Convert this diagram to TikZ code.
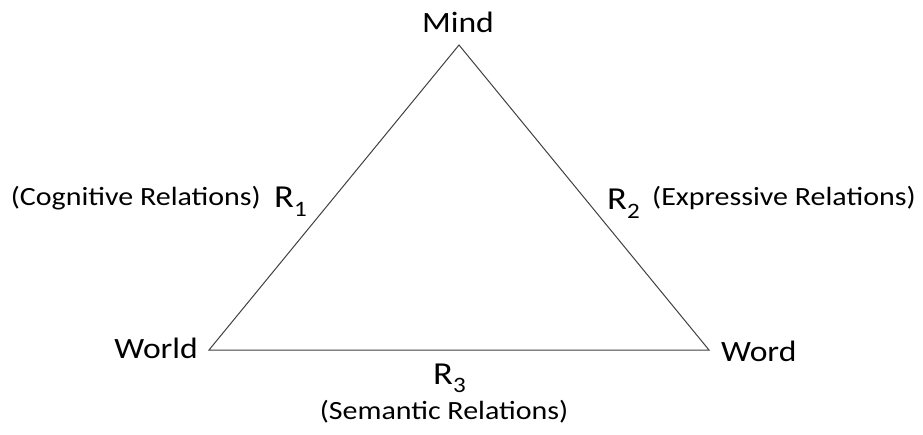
\documentclass[tikz,border=0pt]{standalone}
\usepackage{fontspec}
\setmainfont{Carlito}[FakeStretch=1.14]
\newcommand\rsub[1]{\raisebox{-9pt}{\fontsize{22}{22}\selectfont #1}}
\begin{document}
\begin{tikzpicture}[x=1pt,y=-1pt,
  big/.style={font=\fontsize{29.5}{34}\selectfont, inner sep=0pt},
  rel/.style={font=\fontsize{32}{36}\selectfont, inner sep=0pt},
  small/.style={font=\fontsize{26.3}{30}\selectfont, inner sep=0pt},
  edge/.style={draw=black!75, line width=1pt, line join=miter}]
\useasboundingbox (0,0) rectangle (923,435);
\coordinate (A) at (459,45);
\coordinate (B) at (209,350);
\coordinate (C) at (709,350);
\draw[edge] (A) -- (B) -- (C) -- cycle;
\node[big, anchor=base] (mind) at (458,33) {Mind};
\node[big, anchor=base east] (world) at (198,359) {World};
\node[big, anchor=base west] (word) at (721,361) {Word};
\node[small, anchor=base east] (cog) at (261,206) {(Cognitive Relations)};
\node[rel, anchor=base west] (r1) at (274,208) {R\rsub{1}};
\node[rel, anchor=base west] (r2) at (607,210) {R\rsub{2}};
\node[small, anchor=base west] (exp) at (652,206) {(Expressive Relations)};
\node[rel, anchor=base west] (r3) at (433,384) {R\rsub{3}};
\node[small, anchor=base] (sem) at (444,419) {(Semantic Relations)};
\end{tikzpicture}
\end{document}
